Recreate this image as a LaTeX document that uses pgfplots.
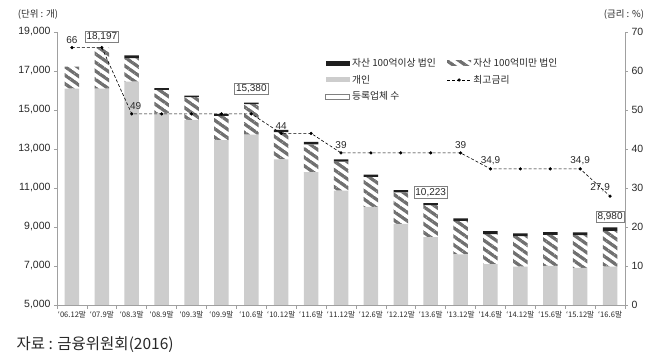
\documentclass[border=0pt]{standalone}
\usepackage{fontspec}
\setmainfont{Liberation Sans}
\newfontfamily\kr{Noto Sans CJK KR}
\usepackage{pgfplots}
\usepackage{pgfplotstable}
\pgfplotsset{compat=1.18}
\usetikzlibrary{patterns.meta}

\definecolor{bargray}{RGB}{205,205,205}
\definecolor{hatchgray}{RGB}{112,112,112}
\definecolor{axgray}{RGB}{160,160,160}
\definecolor{txt}{RGB}{40,40,40}

\tikzdeclarepattern{
  name=mystripes,
  type=uncolored,
  bounding box={(0,-1.7pt) and (7pt,1.7pt)},
  tile size={(7pt,7pt)},
  tile transformation={rotate=-35},
  code={\draw[line width=3.3pt] (0,0) -- (7pt,0);}
}

\pgfplotsset{
  barlegend/.style={legend image code/.code={\fill[#1] (0pt,-2.5pt) rectangle (24pt,2.5pt);}},
  boxlegend/.style={legend image code/.code={\filldraw[#1] (0pt,-2.5pt) rectangle (24pt,2.5pt);}},
  linelegend/.style={legend image code/.code={\draw[#1, mark repeat=2, mark phase=2] plot coordinates {(0pt,0pt) (12pt,0pt) (24pt,0pt)};}},
}

\pgfplotstableread{
x gray hatch black
0 16100 1130 0
1 16100 2097 0
2 16460 1200 135
3 14850 1180 90
4 14490 1170 80
5 13460 1240 100
6 13735 1560 85
7 12470 1390 120
8 11820 1420 120
9 10860 1490 120
10 10030 1545 105
11 9160 1615 115
12 8480 1640 103
13 7600 1715 125
14 7090 1540 155
15 6970 1560 140
16 7000 1595 140
17 6900 1680 140
18 6970 1830 180
}\bars

\pgfplotstableread{
x rate
0 66
1 66
2 49
3 49
4 49
5 49
6 49
7 44
8 44
9 39
10 39
11 39
12 39
13 39
14 34.9
15 34.9
16 34.9
17 34.9
18 27.9
}\rates

\begin{document}
\begin{tikzpicture}
\pgfplotsset{
  common/.style={
    scale only axis, width=568pt, height=273pt,
    xmin=-0.5, xmax=18.5,
    tick align=outside,
    axis line style={axgray, line width=0.6pt},
    tick style={axgray, line width=0.6pt},
    major tick length=3pt, minor tick length=4pt,
    scaled y ticks=false,
    /pgf/number format/assume math mode=true,
    /pgf/number format/1000 sep={,},
    y tick label style={font=\fontsize{10.5}{12}\selectfont, text=txt},
    clip mode=individual,
  }
}
\begin{axis}[common,
  ymin=5000, ymax=19000,
  ybar stacked, bar width=14.5pt,
  axis x line*=bottom, axis y line*=left,
  xtick={0,...,18},
  xticklabels={‘06.12말,‘07.9말,‘08.3말,‘08.9말,‘09.3말,‘09.9말,‘10.6말,‘10.12말,‘11.6말,‘11.12말,‘12.6말,‘12.12말,‘13.6말,‘13.12말,‘14.6말,‘14.12말,‘15.6말,‘15.12말,‘16.6말},
  major x tick style={draw=none},
  minor xtick={-0.5,0.5,...,18.5},
  x tick label style={font=\kr\fontsize{7.6}{9}\selectfont, text=txt},
  ytick={5000,7000,...,19000},
]
\addplot[fill=bargray, draw=none] table[x=x,y=gray]{\bars};
\addplot[pattern=mystripes, pattern color=hatchgray, draw=none] table[x=x,y=hatch]{\bars};
\addplot[fill=black!88, draw=none] table[x=x,y=black]{\bars};
\coordinate (O) at (rel axis cs:0,0);
\tikzset{box/.style={draw=gray, fill=white, line width=0.6pt, inner xsep=1.5pt, inner ysep=1.5pt, anchor=south, font=\fontsize{10}{11}\selectfont, text=txt}}
\node[box] at (axis cs:1,18197) [yshift=5pt] {18,197};
\node[box] at (axis cs:6,15380) [yshift=8pt] {15,380};
\node[box] at (axis cs:12,10223) [yshift=5pt] {10,223};
\node[box] at (axis cs:18,8980) [yshift=5pt] {8,980};
\node[font=\kr\fontsize{9.5}{10}\selectfont, text=txt] at (rel axis cs:0,1) [xshift=-19pt, yshift=17pt] {(단위 : 개)};
\node[font=\kr\fontsize{15.5}{17}\selectfont, text=txt, anchor=west] at (rel axis cs:0,0) [xshift=-44pt, yshift=-40pt] {자료 : 금융위원회(2016)};
\end{axis}

\begin{axis}[common,
  ymin=0, ymax=70,
  axis x line=none, axis y line*=right,
  ytick={0,10,...,70},
  legend columns=2,
  legend style={draw=none, fill=none, at={(0.467,0.918)}, anchor=north west,
    font=\kr\fontsize{9.8}{11}\selectfont, text=txt, row sep=3pt,
    /tikz/every even column/.append style={column sep=9pt}},
  legend cell align=left,
]
\addlegendimage{area legend, barlegend, fill=black!88, draw=none}
\addlegendentry{자산 100억이상 법인}
\addlegendimage{area legend, barlegend, pattern=mystripes, pattern color=hatchgray, draw=none}
\addlegendentry{자산 100억미만 법인}
\addlegendimage{area legend, barlegend, fill=bargray, draw=none}
\addlegendentry{개인}
\addplot[black, densely dashed, line width=0.6pt, mark=*, mark size=1.3pt, mark options={solid}, linelegend]
  table[x=x,y=rate]{\rates};
\addlegendentry{최고금리}
\addlegendimage{area legend, boxlegend, fill=white, draw=gray, line width=0.6pt}
\addlegendentry{등록업체 수}
\tikzset{rl/.style={font=\fontsize{10}{11}\selectfont, text=txt, anchor=south, inner sep=1pt}}
\node[rl] at (axis cs:0,66) [yshift=3pt] {66};
\node[rl] at (axis cs:2,49) [xshift=4pt, yshift=3pt] {49};
\node[rl] at (axis cs:7,44) [yshift=3pt] {44};
\node[rl] at (axis cs:9,39) [yshift=3pt] {39};
\node[rl] at (axis cs:13,39) [yshift=3pt] {39};
\node[rl] at (axis cs:14,34.9) [yshift=3pt] {34,9};
\node[rl] at (axis cs:17,34.9) [yshift=3pt] {34,9};
\node[rl, anchor=south east] at (axis cs:18,27.9) [xshift=1pt, yshift=3pt] {27,9};
\node[font=\kr\fontsize{9.5}{10}\selectfont, text=txt] at (rel axis cs:1,1) [xshift=-1pt, yshift=17pt] {(금리 : \%)};
\end{axis}
\pgfresetboundingbox
\path ([shift={(-57pt,-58pt)}]O) rectangle ([shift={(603pt,305pt)}]O);
\end{tikzpicture}
\end{document}
